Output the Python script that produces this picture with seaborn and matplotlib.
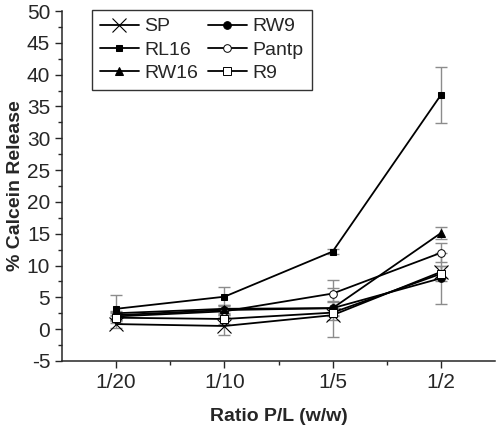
import numpy as np
import pandas as pd
import matplotlib
matplotlib.use("Agg")
import matplotlib.pyplot as plt
import seaborn as sns

# --------------------------
# Data
# --------------------------

ratios = ["1/20", "1/10", "1/5", "1/2"]

sp = [0.8, 0.5, 2.2, 9.0]
rw9 = [2.2, 3.0, 3.3, 8.0]
rl16 = [3.2, 5.1, 12.2, 36.8]
pantp = [2.0, 2.8, 5.6, 12.0]
rw16 = [2.5, 3.2, 3.3, 15.1]
r9 = [1.8, 1.6, 2.6, 8.7]

sp_err = [0.6, 1.4, 0.8, 1.0]
rw9_err = [0.5, 0.8, 1.0, 4.0]
rl16_err = [2.2, 1.5, 0.4, 4.4]
pantp_err = [0.6, 0.6, 2.2, 1.5]
rw16_err = [0.4, 0.6, 1.2, 1.0]
r9_err = [0.5, 0.8, 3.9, 1.2]

names = ["SP", "RW9", "RL16", "Pantp", "RW16", "R9"]
values = [sp, rw9, rl16, pantp, rw16, r9]
errors = [sp_err, rw9_err, rl16_err, pantp_err, rw16_err, r9_err]

styles = {
    "SP": dict(marker="x", markersize=10, mfc="black", mew=0.8),
    "RW9": dict(marker="o", markersize=5.5, mfc="black"),
    "RL16": dict(marker="s", markersize=5, mfc="black"),
    "Pantp": dict(marker="o", markersize=5.5, mfc="white", mew=0.7),
    "RW16": dict(marker="^", markersize=6, mfc="black"),
    "R9": dict(marker="s", markersize=5.5, mfc="white", mew=0.7),
}

rows = []
for name, vals, errs in zip(names, values, errors):
    for i, (v, e) in enumerate(zip(vals, errs)):
        rows.append({"series": name, "x": i, "ratio": ratios[i], "y": v, "err": e})
df = pd.DataFrame(rows)

# --------------------------
# Plot
# --------------------------

sns.set_style("ticks")
plt.rcParams["font.family"] = ["Liberation Sans", "DejaVu Sans"]
plt.rcParams["axes.unicode_minus"] = False

fig = plt.figure(figsize=(4.98, 4.32), dpi=100)
ax = fig.add_axes([0.1245, 0.1644, 0.8695, 0.8101])

for name in names:
    d = df[df["series"] == name]
    ax.errorbar(d["x"], d["y"], yerr=d["err"], fmt="none", ecolor="#8c8c8c",
                elinewidth=1.0, capsize=4, capthick=1.0, zorder=1)
    sns.lineplot(data=d, x="x", y="y", ax=ax, color="black", linewidth=1.3,
                 mec="black", label=name, zorder=3, **styles[name])

ax.set_xlim(-0.5, 3.5)
ax.set_ylim(-5, 50)
ax.set_xticks(range(len(ratios)))
ax.set_xticklabels(ratios)
ax.set_xticks([0.5, 1.5, 2.5], minor=True)
ax.set_yticks(np.arange(-5, 51, 5))
ax.set_yticks(np.arange(-5, 50, 2.5), minor=True)

ax.tick_params(axis="both", which="major", labelsize=15, length=5, width=1, direction="out")
ax.tick_params(axis="both", which="minor", length=3, width=1, direction="out")

ax.set_xlabel("Ratio P/L (w/w)", fontsize=14, fontweight="bold", labelpad=12)
ax.set_ylabel("% Calcein Release", fontsize=14, fontweight="bold", labelpad=2)

sns.despine(ax=ax)
for s in ["left", "bottom"]:
    ax.spines[s].set_linewidth(1.1)

# legend filled row by row
handles, labels = ax.get_legend_handles_labels()
lookup = dict(zip(labels, handles))
order = ["SP", "RL16", "RW16", "RW9", "Pantp", "R9"]
leg = ax.legend([lookup[n] for n in order], order, ncol=2, loc="upper left",
                bbox_to_anchor=(0.069, 1.003), fontsize=14, borderaxespad=0,
                frameon=True, fancybox=False, edgecolor="black", handlelength=2.0,
                handletextpad=0.3, columnspacing=0.5, labelspacing=0.3,
                borderpad=0.4)
leg.get_frame().set_linewidth(1.0)

fig.savefig("out.png", dpi=100)
